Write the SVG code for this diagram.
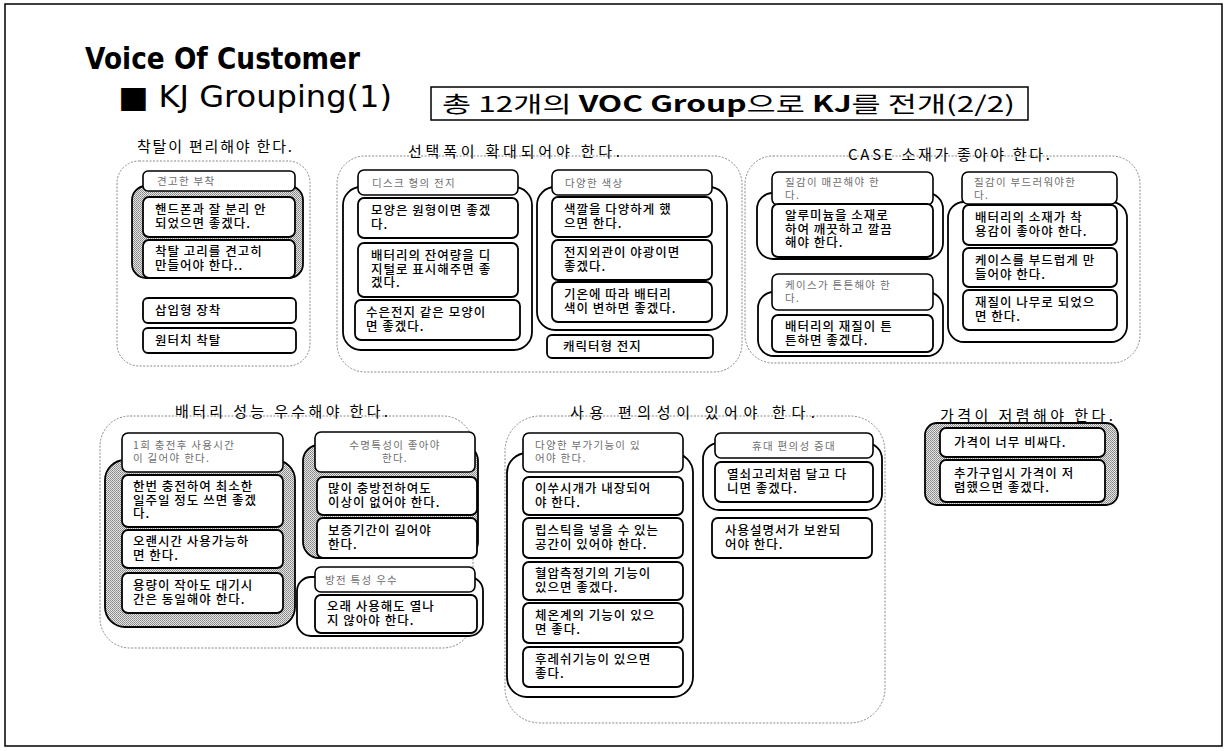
<svg xmlns="http://www.w3.org/2000/svg" width="1229" height="751" viewBox="0 0 1229 751">
<defs>
<pattern id="dither" width="2" height="2" patternUnits="userSpaceOnUse">
<rect width="2" height="2" fill="#e6e6e6"/>
<rect x="0" y="0" width="1" height="1" fill="#858585"/>
<rect x="1" y="1" width="1" height="1" fill="#959595"/>
</pattern>
<style>
.frame{fill:#fff;stroke:#000;stroke-width:1.5}
.grp{fill:none;stroke:#888;stroke-width:1;stroke-dasharray:2 1.5}
.box{fill:#fff;stroke:#000;stroke-width:1.8}
.hdr{fill:#fff;stroke:#000;stroke-width:1.6}
.sub{fill:#fff;stroke:#000;stroke-width:1.8}
.subg{fill:url(#dither);stroke:#000;stroke-width:1.8}
.t{font-family:"Noto Sans CJK KR","Noto Sans",sans-serif;font-size:12.5px;font-weight:500;letter-spacing:1px;fill:#000}
.h{font-family:"Noto Sans CJK KR","Noto Sans",sans-serif;font-size:10.5px;letter-spacing:1.3px;fill:#6e6e6e}
.gt{font-family:"Noto Sans CJK KR","Noto Sans",sans-serif;font-size:15px;fill:#000}
.hc{text-anchor:middle}
</style>
</defs>
<rect class="frame" x="5" y="4" width="1217" height="742"/>

<g id="title">
<text x="85" y="69" font-family="'DejaVu Sans','Noto Sans',sans-serif" font-weight="bold" font-size="31" textLength="275" lengthAdjust="spacingAndGlyphs">Voice Of Customer</text>
<text x="118" y="107" font-family="'DejaVu Sans','Noto Sans',sans-serif" font-size="30" textLength="274" lengthAdjust="spacingAndGlyphs">■ KJ Grouping(1)</text>
</g>

<g id="header-box">
<rect x="431" y="87" width="597" height="33" fill="#fff" stroke="#000" stroke-width="1.5"/>
<text x="442" y="112" font-family="'Noto Sans CJK KR','Noto Sans',sans-serif" font-size="22" textLength="573" lengthAdjust="spacingAndGlyphs">총 12개의 <tspan font-weight="bold">VOC Group</tspan>으로 <tspan font-weight="bold">KJ</tspan>를 전개(2/2)</text>
</g>

<g id="connectors"></g>

<!-- Group 1 -->
<g id="g1">
<rect class="grp" x="117" y="161" width="193" height="205" rx="22"/>
<text class="gt" x="137" y="152" textLength="155">착탈이 편리해야 한다.</text>
<rect class="subg" x="132" y="186" width="171" height="92" rx="14"/>
<rect class="hdr" x="143" y="171" width="152" height="20" rx="5"/>
<text class="h" x="157" y="185">견고한 부착</text>
<rect class="box" x="143" y="197" width="152" height="40" rx="6"/>
<text class="t" x="155" y="214">핸드폰과 잘 분리 안<tspan x="155" dy="13.5">되었으면 좋겠다.</tspan></text>
<rect class="box" x="143" y="240" width="152" height="38" rx="6"/>
<text class="t" x="155" y="256">착탈 고리를 견고히<tspan x="155" dy="13.5">만들어야 한다..</tspan></text>
<rect class="box" x="143" y="298" width="153" height="25" rx="5"/>
<text class="t" x="155" y="315">삽입형 장착</text>
<rect class="box" x="143" y="328" width="153" height="25" rx="5"/>
<text class="t" x="155" y="345">원터치 착탈</text>
</g>

<!-- Group 2 -->
<g id="g2">
<rect class="grp" x="337" y="156" width="405" height="216" rx="28"/>
<text class="gt" x="408" y="157" textLength="212">선택폭이 확대되어야 한다.</text>
<rect class="sub" x="343" y="187" width="189" height="163" rx="18"/>
<rect class="hdr" x="358" y="170" width="160" height="25" rx="6"/>
<text class="h" x="372" y="187">디스크 형의 전지</text>
<rect class="box" x="358" y="198" width="160" height="40" rx="6"/>
<text class="t" x="371" y="215">모양은 원형이면 좋겠<tspan x="371" dy="13.5">다.</tspan></text>
<rect class="box" x="358" y="243" width="160" height="54" rx="6"/>
<text class="t" x="371" y="260">배터리의 잔여량을 디<tspan x="371" dy="13.5">지털로 표시해주면 좋</tspan><tspan x="371" dy="13.5">겠다.</tspan></text>
<rect class="box" x="355" y="300" width="165" height="40" rx="6"/>
<text class="t" x="366" y="317">수은전지 같은 모양이<tspan x="366" dy="13.5">면 좋겠다.</tspan></text>

<rect class="sub" x="537" y="187" width="190" height="143" rx="18"/>
<rect class="hdr" x="552" y="170" width="160" height="25" rx="6"/>
<text class="h" x="565" y="187">다양한 색상</text>
<rect class="box" x="552" y="197" width="160" height="40" rx="6"/>
<text class="t" x="564" y="214">색깔을 다양하게 했<tspan x="564" dy="13.5">으면 한다.</tspan></text>
<rect class="box" x="552" y="240" width="160" height="40" rx="6"/>
<text class="t" x="564" y="257">전지외관이 야광이면<tspan x="564" dy="13.5">좋겠다.</tspan></text>
<rect class="box" x="552" y="282" width="160" height="40" rx="6"/>
<text class="t" x="564" y="299">기온에 따라 배터리<tspan x="564" dy="13.5">색이 변하면 좋겠다.</tspan></text>
<rect class="box" x="547" y="335" width="166" height="23" rx="5"/>
<text class="t" x="563" y="351">캐릭터형 전지</text>
</g>

<!-- Group 3 -->
<g id="g3">
<rect class="grp" x="745" y="156" width="395" height="207" rx="28"/>
<text class="gt" x="848" y="160" textLength="202">CASE 소재가 좋아야 한다.</text>
<rect class="sub" x="757" y="193" width="186" height="66" rx="16"/>
<rect class="hdr" x="772" y="172" width="161" height="33" rx="6"/>
<text class="h" x="785" y="186">질감이 매끈해야 한<tspan x="785" dy="12.5">다.</tspan></text>
<rect class="box" x="772" y="204" width="161" height="53" rx="6"/>
<text class="t" x="785" y="220">알루미늄을 소재로<tspan x="785" dy="13.5">하여 깨끗하고 깔끔</tspan><tspan x="785" dy="13.5">해야 한다.</tspan></text>

<rect class="sub" x="758" y="292" width="185" height="64" rx="16"/>
<rect class="hdr" x="772" y="274" width="161" height="36" rx="6"/>
<text class="h" x="785" y="289">케이스가 튼튼해야 한<tspan x="785" dy="12.5">다.</tspan></text>
<rect class="box" x="772" y="315" width="161" height="37" rx="6"/>
<text class="t" x="785" y="331">배터리의 재질이 튼<tspan x="785" dy="13.5">튼하면 좋겠다.</tspan></text>

<rect class="sub" x="948" y="202" width="179" height="140" rx="16"/>
<rect class="hdr" x="962" y="172" width="155" height="32" rx="6"/>
<text class="h" x="974" y="186">질감이 부드러워야한<tspan x="974" dy="12.5">다.</tspan></text>
<rect class="box" x="963" y="205" width="154" height="40" rx="6"/>
<text class="t" x="975" y="222">배터리의 소재가 착<tspan x="975" dy="13.5">용감이 좋아야 한다.</tspan></text>
<rect class="box" x="963" y="248" width="154" height="39" rx="6"/>
<text class="t" x="975" y="265">케이스를 부드럽게 만<tspan x="975" dy="13.5">들어야 한다.</tspan></text>
<rect class="box" x="963" y="290" width="154" height="40" rx="6"/>
<text class="t" x="975" y="307">재질이 나무로 되었으<tspan x="975" dy="13.5">면 한다.</tspan></text>
</g>

<!-- Group 4 -->
<g id="g4">
<rect class="grp" x="100" y="416" width="373" height="232" rx="30"/>
<text class="gt" x="175" y="417" textLength="213">배터리 성능 우수해야 한다.</text>
<rect class="subg" x="105" y="460" width="190" height="167" rx="20"/>
<rect class="hdr" x="122" y="433" width="161" height="39" rx="6"/>
<text class="h" x="133" y="449">1회 충전후 사용시간<tspan x="133" dy="12.5">이 길어야 한다.</tspan></text>
<rect class="box" x="122" y="475" width="161" height="52" rx="6"/>
<text class="t" x="133" y="491">한번 충전하여 최소한<tspan x="133" dy="13.5">일주일 정도 쓰면 좋겠</tspan><tspan x="133" dy="13.5">다.</tspan></text>
<rect class="box" x="122" y="530" width="161" height="38" rx="6"/>
<text class="t" x="133" y="546">오랜시간 사용가능하<tspan x="133" dy="13.5">면 한다.</tspan></text>
<rect class="box" x="122" y="573" width="161" height="40" rx="6"/>
<text class="t" x="133" y="590">용량이 작아도 대기시<tspan x="133" dy="13.5">간은 동일해야 한다.</tspan></text>

<rect class="subg" x="303" y="445" width="175" height="113" rx="16"/>
<rect class="hdr" x="315" y="432" width="160" height="40" rx="6"/>
<text class="h hc" x="395" y="449">수명특성이 좋아야<tspan x="395" dy="12.5">한다.</tspan></text>
<rect class="box" x="317" y="477" width="160" height="38" rx="6"/>
<text class="t" x="328" y="493">많이 충방전하여도<tspan x="328" dy="13.5">이상이 없어야 한다.</tspan></text>
<rect class="box" x="317" y="518" width="160" height="40" rx="6"/>
<text class="t" x="328" y="535">보증기간이 길어야<tspan x="328" dy="13.5">한다.</tspan></text>

<rect class="sub" x="297" y="577" width="186" height="59" rx="14"/>
<rect class="hdr" x="315" y="567" width="160" height="25" rx="6"/>
<text class="h" x="325" y="584">방전 특성 우수</text>
<rect class="box" x="315" y="595" width="162" height="38" rx="6"/>
<text class="t" x="327" y="611">오래 사용해도 열나<tspan x="327" dy="13.5">지 않아야 한다.</tspan></text>
</g>

<!-- Group 5 -->
<g id="g5">
<rect class="grp" x="505" y="416" width="380" height="307" rx="35"/>
<text class="gt" x="570" y="418" textLength="245">사용 편의성이 있어야 한다.</text>
<rect class="sub" x="507" y="453" width="186" height="244" rx="20"/>
<rect class="hdr" x="523" y="433" width="160" height="39" rx="6"/>
<text class="h" x="535" y="449">다양한 부가기능이 있<tspan x="535" dy="12.5">어야 한다.</tspan></text>
<rect class="box" x="523" y="477" width="160" height="38" rx="6"/>
<text class="t" x="535" y="493">이쑤시개가 내장되어<tspan x="535" dy="13.5">야 한다.</tspan></text>
<rect class="box" x="523" y="518" width="160" height="40" rx="6"/>
<text class="t" x="535" y="535">립스틱을 넣을 수 있는<tspan x="535" dy="13.5">공간이 있어야 한다.</tspan></text>
<rect class="box" x="523" y="562" width="160" height="38" rx="6"/>
<text class="t" x="535" y="578">혈압측정기의 기능이<tspan x="535" dy="13.5">있으면 좋겠다.</tspan></text>
<rect class="box" x="523" y="603" width="160" height="40" rx="6"/>
<text class="t" x="535" y="620">체온계의 기능이 있으<tspan x="535" dy="13.5">면 좋다.</tspan></text>
<rect class="box" x="523" y="647" width="160" height="40" rx="6"/>
<text class="t" x="535" y="664">후레쉬기능이 있으면<tspan x="535" dy="13.5">좋다.</tspan></text>

<rect class="sub" x="703" y="443" width="179" height="67" rx="16"/>
<rect class="hdr" x="715" y="433" width="158" height="25" rx="6"/>
<text class="h hc" x="794" y="450">휴대 편의성 증대</text>
<rect class="box" x="715" y="462" width="158" height="40" rx="6"/>
<text class="t" x="727" y="479">열쇠고리처럼 달고 다<tspan x="727" dy="13.5">니면 좋겠다.</tspan></text>
<rect class="box" x="712" y="518" width="160" height="40" rx="6"/>
<text class="t" x="725" y="535">사용설명서가 보완되<tspan x="725" dy="13.5">어야 한다.</tspan></text>
</g>

<!-- Group 6 -->
<g id="g6">
<text class="gt" x="940" y="421" textLength="173">가격이 저렴해야 한다.</text>
<rect class="subg" x="925" y="423" width="193" height="82" rx="12"/>
<rect class="box" x="940" y="428" width="165" height="29" rx="6"/>
<text class="t" x="954" y="447">가격이 너무 비싸다.</text>
<rect class="box" x="940" y="460" width="165" height="42" rx="6"/>
<text class="t" x="954" y="478">추가구입시 가격이 저<tspan x="954" dy="13.5">렴했으면 좋겠다.</tspan></text>
</g>
</svg>
